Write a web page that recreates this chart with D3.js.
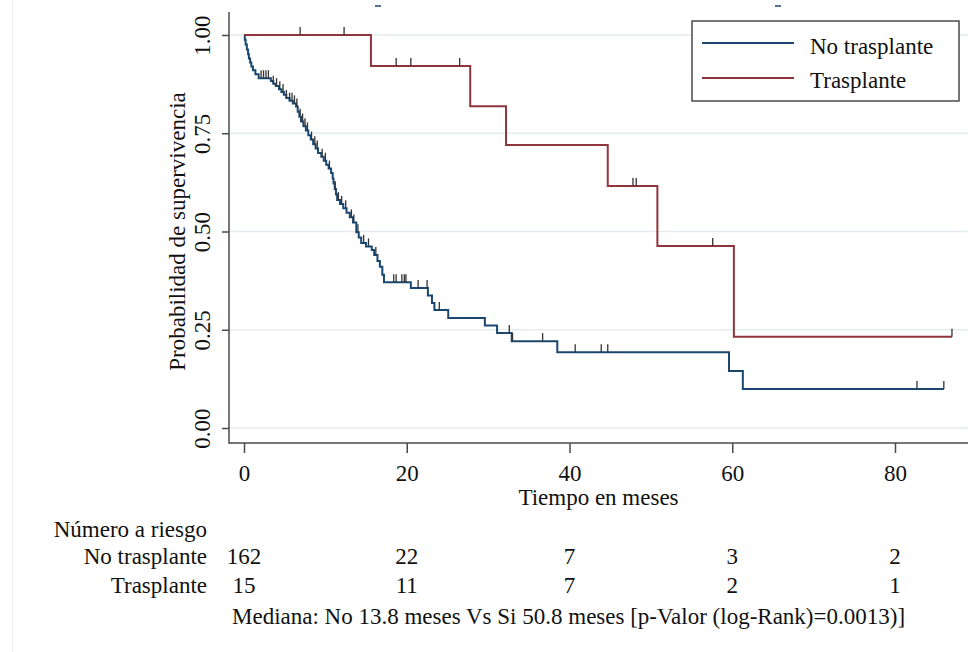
<!DOCTYPE html>
<html><head><meta charset="utf-8">
<script src="https://cdn.jsdelivr.net/npm/d3@7"></script>
<style>body{margin:0;background:#fff}text{font-family:"Liberation Serif","Times New Roman",serif;fill:#111}</style>
</head><body><svg id="c" width="978" height="652"></svg>
<script>
// ---- data ----
const xTicks = [0, 20, 40, 60, 80];
const yTicks = [0, 0.25, 0.5, 0.75, 1.0];
const yTickLabels = ["0.00", "0.25", "0.50", "0.75", "1.00"];
const seriesNames = ["No trasplante", "Trasplante"];
const seriesColors = ["#1a476f", "#90353b"];
// steps: [time, survival after event]
const noTxSteps = [[0,1.0],[0.1,0.988],[0.2,0.976],[0.35,0.963],[0.5,0.951],[0.6,0.94],[0.75,0.93],[0.9,0.92],[1.1,0.91],[1.4,0.9],[1.8,0.89],
 [3.3,0.883],[3.6,0.876],[3.9,0.87],[4.3,0.862],[4.6,0.855],[4.9,0.848],[5.2,0.84],[5.6,0.833],[6.0,0.826],[6.4,0.818],[6.6,0.805],[6.8,0.792],[7.0,0.78],[7.3,0.768],[7.6,0.757],[7.9,0.745],[8.2,0.734],[8.5,0.722],[8.8,0.711],[9.1,0.70],[9.5,0.69],[9.8,0.68],[10.1,0.67],[10.4,0.66],[10.7,0.649],[10.9,0.635],[11.0,0.622],[11.15,0.608],[11.3,0.594],[11.45,0.58],[11.8,0.57],[12.2,0.559],[12.6,0.548],[13.0,0.536],[13.4,0.523],[13.8,0.498],[14.1,0.485],[14.4,0.471],[15.0,0.462],[15.7,0.453],[16.0,0.44],[16.4,0.425],[16.7,0.41],[17.0,0.39],[17.2,0.371],
 [20.5,0.356],[22.6,0.337],[23.1,0.318],[23.4,0.30],[25.1,0.28],[29.6,0.261],[31.1,0.242],[32.9,0.221],[38.5,0.193],[59.6,0.145],[61.3,0.099]];
const noTxEnd = 86.0;
const noTxCensor = [2.1,2.4,2.7,3.0,3.6,4.0,4.4,4.8,5.2,5.6,5.9,6.2,6.5,6.9,7.2,7.5,7.8,8.3,8.7,9.0,9.6,10.0,10.5,11.2,11.6,12.0,12.5,13.2,13.5,14.0,14.7,15.3,16.2,18.4,18.7,19.4,19.7,19.9,21.4,22.5,24.0,32.6,33.0,36.7,40.7,43.9,44.7,82.7,86.0];
const txSteps = [[0,1.0],[15.6,0.921],[27.8,0.819],[32.2,0.72],[44.7,0.616],[50.8,0.463],[60.2,0.232]];
const txEnd = 87.0;
const txCensor = [6.9,12.3,18.7,20.5,26.5,47.8,48.2,57.6,87.0];
const riskLabels = ["No trasplante", "Trasplante"];
const riskNoTx = [162, 22, 7, 3, 2];
const riskTx = [15, 11, 7, 2, 1];
const noteText = "Mediana: No 13.8 meses Vs Si 50.8 meses [p-Valor (log-Rank)=0.0013)]";

// ---- drawing ----
const svg = d3.select("#c");
const x = d3.scaleLinear().domain([0, 80]).range([244, 895]);
const y = d3.scaleLinear().domain([0, 1]).range([428, 35]);
const plotL = 229, plotR = 968, plotB = 443, plotT = 12;
const axisCol = "#4a4a4a";

// faint left border
svg.append("line").attr("x1",12.5).attr("x2",12.5).attr("y1",0).attr("y2",652).attr("stroke","#eeeeee");

// gridlines
svg.append("g").selectAll("line").data(yTicks).join("line")
  .attr("x1", plotL).attr("x2", plotR).attr("y1", d => y(d)).attr("y2", d => y(d))
  .attr("stroke", "#e3edef").attr("stroke-width", 1.5);

// axes lines
svg.append("line").attr("x1", plotL).attr("x2", plotL).attr("y1", plotT).attr("y2", plotB + 0.75).attr("stroke", axisCol).attr("stroke-width", 1.5);
svg.append("line").attr("x1", plotL).attr("x2", plotR).attr("y1", plotB).attr("y2", plotB).attr("stroke", axisCol).attr("stroke-width", 1.5);

// x axis
const xa = svg.append("g").attr("transform", `translate(0,${plotB})`)
  .call(d3.axisBottom(x).tickValues(xTicks).tickSize(10).tickPadding(0).tickFormat(d3.format("d")));
xa.select(".domain").remove();
xa.selectAll(".tick line").attr("stroke", axisCol).attr("stroke-width", 1.5);
xa.selectAll(".tick text").attr("y", 38).attr("dy", null).attr("font-size", 23)
  .attr("font-family", "Liberation Serif").attr("fill", "#111");

// y axis
const ya = svg.append("g").attr("transform", `translate(${plotL},0)`)
  .call(d3.axisLeft(y).tickValues(yTicks).tickSize(7).tickFormat((d, i) => yTickLabels[i]));
ya.select(".domain").remove();
ya.selectAll(".tick line").attr("stroke", axisCol).attr("stroke-width", 1.5);
ya.selectAll(".tick text").attr("x", null).attr("dy", null)
  .attr("transform", "translate(-19,0) rotate(-90)").attr("text-anchor", "middle")
  .attr("font-size", 23).attr("font-family", "Liberation Serif").attr("fill", "#111");

// titles
svg.append("text").attr("transform", `translate(185,${(y(0)+y(1))/2}) rotate(-90)`)
  .attr("text-anchor", "middle").attr("font-size", 23).text("Probabilidad de supervivencia");
svg.append("text").attr("x", (plotL + plotR) / 2).attr("y", 505)
  .attr("text-anchor", "middle").attr("font-size", 23).text("Tiempo en meses");

// KM curves
function stepPath(steps, end) {
  const pts = [];
  steps.forEach((s, i) => {
    if (i > 0) pts.push([s[0], steps[i-1][1]]);
    pts.push(s);
  });
  pts.push([end, steps[steps.length-1][1]]);
  return d3.line().x(d => x(d[0])).y(d => y(d[1]))(pts);
}
function survAt(steps, t) {
  let v = steps[0][1];
  for (const s of steps) { if (s[0] <= t) v = s[1]; }
  return v;
}
const curves = [[noTxSteps, noTxEnd, noTxCensor], [txSteps, txEnd, txCensor]];
curves.forEach((c, i) => {
  svg.append("path").attr("d", stepPath(c[0], c[1])).attr("fill", "none")
    .attr("stroke", seriesColors[i]).attr("stroke-width", 2);
});
curves.forEach((c, i) => {
  svg.append("g").selectAll("line").data(c[2]).join("line")
    .attr("x1", d => x(d)).attr("x2", d => x(d))
    .attr("y1", d => y(survAt(c[0], d))).attr("y2", d => y(survAt(c[0], d)) - 8)
    .attr("stroke", "#333").attr("stroke-width", 1.3);
});

// legend
const lg = svg.append("g");
lg.append("rect").attr("x", 692).attr("y", 21).attr("width", 267).attr("height", 80)
  .attr("fill", "#fff").attr("stroke", axisCol).attr("stroke-width", 1.5);
seriesNames.forEach((n, i) => {
  const ly = 43 + i * 35;
  lg.append("line").attr("x1", 702).attr("x2", 794).attr("y1", ly).attr("y2", ly)
    .attr("stroke", seriesColors[i]).attr("stroke-width", 2);
  lg.append("text").attr("x", 810).attr("y", 54 + i * 34).attr("font-size", 23).text(n);
});

// small clipped marks at top
svg.append("line").attr("x1", 375).attr("x2", 381).attr("y1", 6).attr("y2", 6).attr("stroke", "#1a476f").attr("stroke-width", 1.5);
svg.append("line").attr("x1", 775).attr("x2", 781).attr("y1", 6).attr("y2", 6).attr("stroke", "#1a476f").attr("stroke-width", 1.5);

// risk table
svg.append("text").attr("x", 207).attr("y", 537).attr("text-anchor", "end").attr("font-size", 23).text("Número a riesgo");
[riskNoTx, riskTx].forEach((row, i) => {
  const ry = 564 + i * 28.5;
  svg.append("text").attr("x", 207).attr("y", ry).attr("text-anchor", "end").attr("font-size", 23).text(riskLabels[i]);
  svg.append("g").selectAll("text").data(row).join("text")
    .attr("x", (d, j) => x(xTicks[j])).attr("y", ry).attr("text-anchor", "middle")
    .attr("font-size", 23).text(d => d);
});
svg.append("text").attr("x", 232).attr("y", 624).attr("font-size", 23).text(noteText);
</script></body></html>
